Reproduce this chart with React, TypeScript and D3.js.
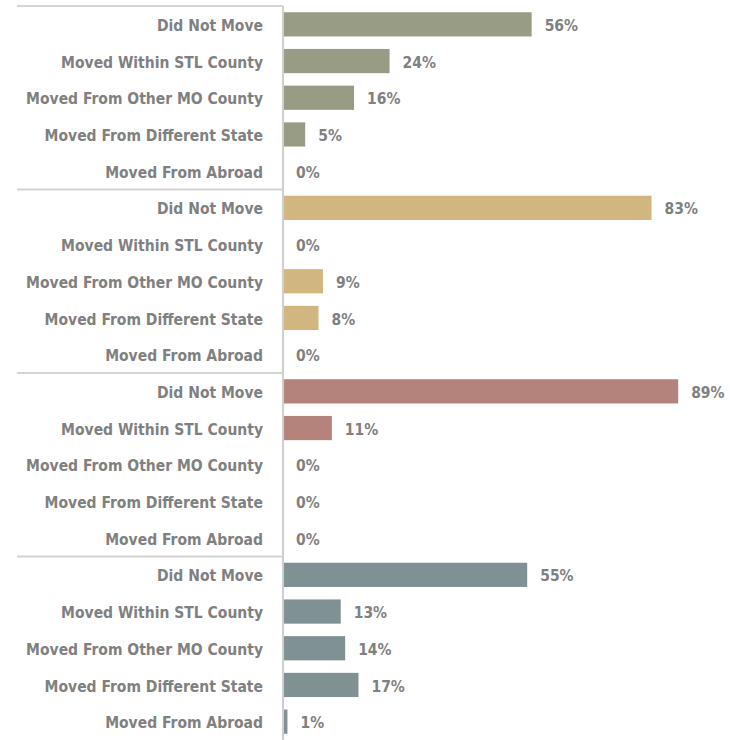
import React from "react";
import * as d3 from "d3";

const categories = [
  "Did Not Move",
  "Moved Within STL County",
  "Moved From Other MO County",
  "Moved From Different State",
  "Moved From Abroad",
];
const groupColors = ["#999c84", "#d2b67f", "#b4837b", "#7f9193"];
const group1 = [56, 24, 16, 5, 0];
const group2 = [83, 0, 9, 8, 0];
const group3 = [89, 11, 0, 0, 0];
const group4 = [55, 13, 14, 17, 1];
const groups = [group1, group2, group3, group4];

export default function App() {
  const W = 733;
  const H = 740;
  const top = 6;
  const rowH = 36.7;
  const axisX = 283;
  const rows = groups.flatMap((g, gi) =>
    g.map((v, ci) => ({ key: `${gi}-${ci}`, gi, ci, v, label: categories[ci] }))
  );
  const y = d3
    .scaleBand<string>()
    .domain(rows.map((r) => r.key))
    .range([top, top + rowH * rows.length])
    .paddingInner(0.34)
    .paddingOuter(0.17);
  const x = d3.scaleLinear().domain([0, 100]).range([axisX, axisX + 444]);
  const font = "'DejaVu Sans Condensed', 'DejaVu Sans', sans-serif";
  const fs = 15.5;
  return (
    <svg
      width={W}
      height={H}
      style={{ position: "absolute", left: 0, top: 0, background: "#fff" }}
    >
      {groups.map((g, gi) => (
        <line
          key={"sep" + gi}
          x1={17}
          x2={axisX}
          y1={top + gi * 5 * rowH}
          y2={top + gi * 5 * rowH}
          stroke="#d4d4d4"
          strokeWidth={2}
        />
      ))}
      {rows.map((r) => {
        const yc = (y(r.key) as number) + y.bandwidth() / 2;
        return (
          <g key={r.key}>
            {r.v > 0 && (
              <rect
                x={x(0)}
                y={y(r.key)}
                width={x(r.v) - x(0)}
                height={y.bandwidth()}
                fill={groupColors[r.gi]}
              />
            )}
            <text
              x={263}
              y={yc + 1}
              dy="0.36em"
              textAnchor="end"
              fontFamily={font}
              fontWeight="bold"
              fontSize={fs}
              fill="#808080"
            >
              {r.label}
            </text>
            <text
              x={x(r.v) + 13}
              y={yc + 1}
              dy="0.36em"
              fontFamily={font}
              fontWeight="bold"
              fontSize={fs}
              fill="#808080"
            >
              {r.v + "%"}
            </text>
          </g>
        );
      })}
      <line
        x1={axisX}
        x2={axisX}
        y1={top}
        y2={H}
        stroke="#cfcfcf"
        strokeWidth={2}
      />
    </svg>
  );
}
